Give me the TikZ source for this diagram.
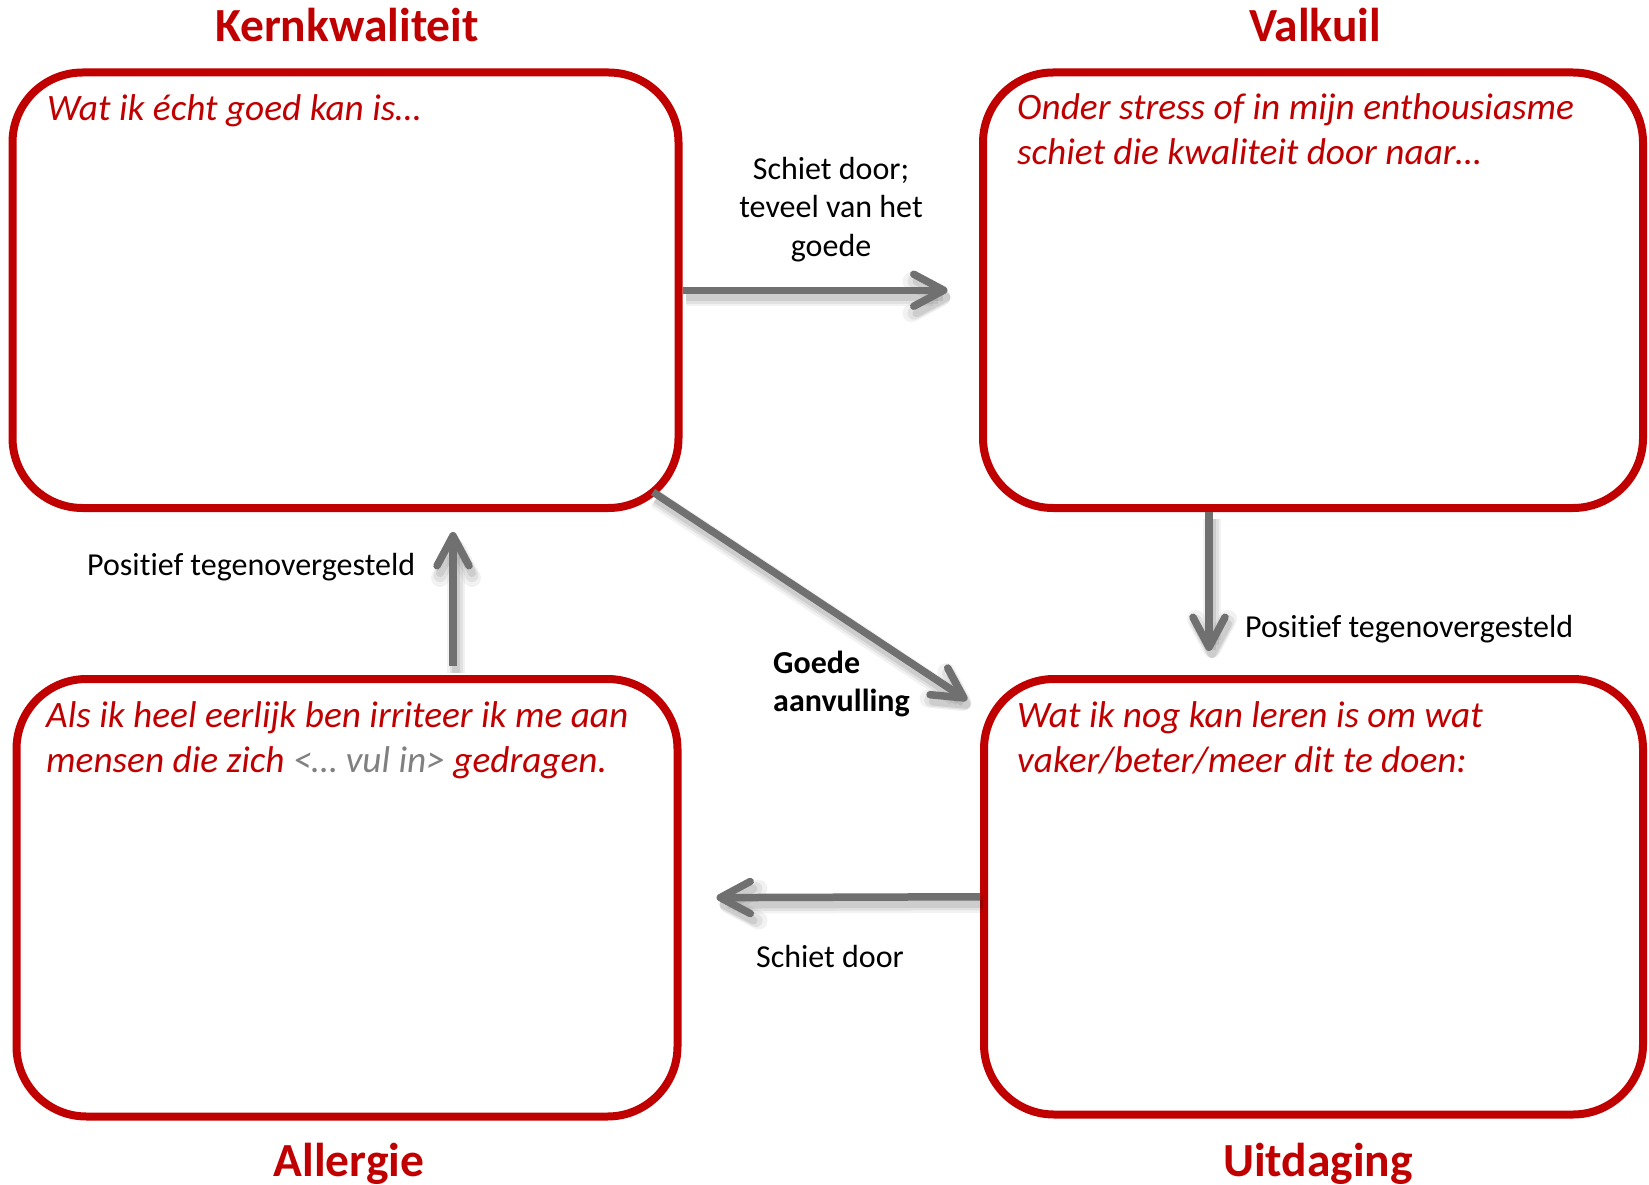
\documentclass[tikz,border=0pt]{standalone}
\usepackage{fontspec}
\setmainfont[Ligatures=NoCommon]{Carlito}
\usetikzlibrary{arrows.meta}
\definecolor{kred}{HTML}{C00000}
\definecolor{agray}{HTML}{707070}
\definecolor{vgray}{HTML}{808080}
\tikzset{
  box/.style={draw=kred, line width=8pt, rounded corners=70pt, rectangle, inner sep=0pt, fill=none},
  ttl/.style={text=kred, font=\fontsize{47.5}{52}\selectfont\bfseries, inner sep=0pt, anchor=base},
  itx/.style={text=kred, font=\fontsize{37.3}{45}\selectfont\itshape, inner sep=0pt, anchor=base west},
  lbl/.style={text=black, font=\fontsize{32}{38}\selectfont, inner sep=0pt},
  blbl/.style={text=black, font=\fontsize{32}{38}\selectfont\bfseries, inner sep=0pt},
  arr/.style={draw=agray, line width=7.5pt,
    -{Straight Barb[round, length=30pt, width=32pt]},
    preaction={draw=black, draw opacity=0.05, line width=18pt,
      transform canvas={xshift=3pt, yshift=-7pt}},
    preaction={draw=black, draw opacity=0.07, line width=13pt,
      transform canvas={xshift=3pt, yshift=-7pt}},
    preaction={draw=black, draw opacity=0.09, line width=8pt,
      transform canvas={xshift=3pt, yshift=-7pt}}},
}
\begin{document}
\begin{tikzpicture}[x=1pt, y=-1pt]
\useasboundingbox (0,0) rectangle (1649,1185);
% boxes
\node[box, minimum width=666pt, minimum height=435.5pt] (k) at (345.5,290.25) {};
\node[box, minimum width=660pt, minimum height=435.5pt] (v) at (1313,290.25) {};
\node[box, minimum width=661pt, minimum height=437.5pt] (a) at (347,897.75) {};
\node[box, minimum width=659pt, minimum height=435.5pt] (u) at (1313.5,896.75) {};
% titles
\node[ttl] (tk) at (347,42) {Kernkwaliteit};
\node[ttl] (tv) at (1315,42) {Valkuil};
\node[ttl] (ta) at (349,1176) {Allergie};
\node[ttl] (tu) at (1318,1176) {Uitdaging};
% box texts
\node[itx] (k1) at (47,121) {Wat ik écht goed kan is…};
\node[itx] (v1) at (1017,120) {Onder stress of in mijn enthousiasme};
\node[itx] (v2) at (1017,165) {schiet die kwaliteit door naar…};
\node[itx] (a1) at (46,727) {Als ik heel eerlijk ben irriteer ik me aan};
\node[itx] (a2) at (46,772) {mensen die zich {\color{vgray}<… vul in>} gedragen.};
\node[itx] (u1) at (1017,727) {Wat ik nog kan leren is om wat};
\node[itx] (u2) at (1017,772) {vaker/beter/meer dit te doen:};
% coordinates
\coordinate (d1) at (653,492);
\coordinate (d2) at (967,700);
\coordinate (dx) at (1209,0);
\coordinate (ux) at (453,0);
% arrows
\draw[arr, shorten >=31.5pt] (k.east) -- (k.east -| v.west);
\draw[arr] (d1) -- (d2);
\draw[arr, shorten >=24pt] (v.south -| dx) -- (u.north -| dx);
\draw[arr, shorten <=9pt, shorten >=20pt] (a.north -| ux) -- (k.south -| ux);
\draw[arr, shorten >=35pt] (u.west) -- (a.east);
% labels
\node[lbl, anchor=base] (s1) at (831,180) {Schiet door;};
\node[lbl, anchor=base] (s2) at (831,218) {teveel van het};
\node[lbl, anchor=base] (s3) at (831,256) {goede};
\node[lbl, anchor=base west] (p1) at (87,575) {Positief tegenovergesteld};
\node[lbl, anchor=base west] (p2) at (1245,637) {Positief tegenovergesteld};
\node[blbl, anchor=base west] (g1) at (773,673) {Goede};
\node[blbl, anchor=base west] (g2) at (773,711) {aanvulling};
\node[lbl, anchor=base] (s4) at (830,967) {Schiet door};
\end{tikzpicture}
\end{document}
